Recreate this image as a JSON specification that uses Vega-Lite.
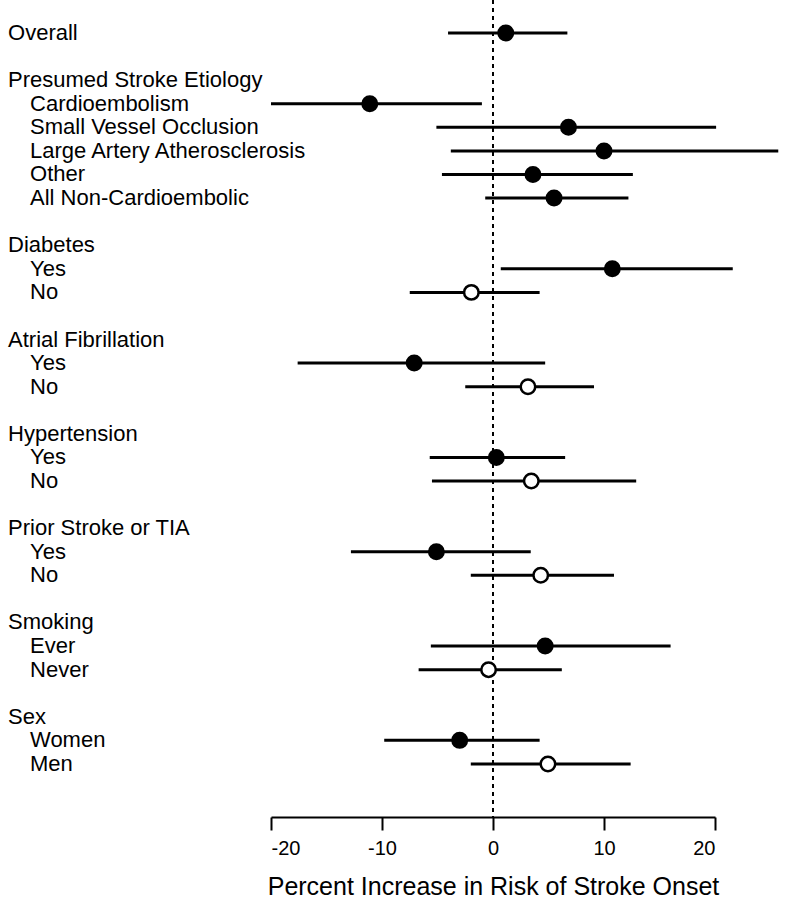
{
  "$schema": "https://vega.github.io/schema/vega-lite/v6.json",
  "autosize": {"type": "none"},
  "padding": {"left": 271, "right": 70, "top": 0, "bottom": 85},
  "width": 444,
  "height": 817,
  "background": "white",
  "config": {"view": {"stroke": null}, "font": "Liberation Sans"},
  "data": {"values": [
    {"row": 0, "label": "Overall", "level": "head", "est": 1.15, "lo": -4.05, "hi": 6.7, "filled": "yes"},
    {"row": 2, "label": "Presumed Stroke Etiology", "level": "head", "est": null, "lo": null, "hi": null, "filled": null},
    {"row": 3, "label": "Cardioembolism", "level": "item", "est": -11.1, "lo": -20.0, "hi": -1.0, "filled": "yes"},
    {"row": 4, "label": "Small Vessel Occlusion", "level": "item", "est": 6.8, "lo": -5.1, "hi": 20.1, "filled": "yes"},
    {"row": 5, "label": "Large Artery Atherosclerosis", "level": "item", "est": 10.0, "lo": -3.8, "hi": 25.7, "filled": "yes"},
    {"row": 6, "label": "Other", "level": "item", "est": 3.6, "lo": -4.6, "hi": 12.6, "filled": "yes"},
    {"row": 7, "label": "All Non-Cardioembolic", "level": "item", "est": 5.5, "lo": -0.7, "hi": 12.2, "filled": "yes"},
    {"row": 9, "label": "Diabetes", "level": "head", "est": null, "lo": null, "hi": null, "filled": null},
    {"row": 10, "label": "Yes", "level": "item", "est": 10.75, "lo": 0.7, "hi": 21.6, "filled": "yes"},
    {"row": 11, "label": "No", "level": "item", "est": -1.95, "lo": -7.5, "hi": 4.2, "filled": "no"},
    {"row": 13, "label": "Atrial Fibrillation", "level": "head", "est": null, "lo": null, "hi": null, "filled": null},
    {"row": 14, "label": "Yes", "level": "item", "est": -7.1, "lo": -17.6, "hi": 4.7, "filled": "yes"},
    {"row": 15, "label": "No", "level": "item", "est": 3.15, "lo": -2.5, "hi": 9.1, "filled": "no"},
    {"row": 17, "label": "Hypertension", "level": "head", "est": null, "lo": null, "hi": null, "filled": null},
    {"row": 18, "label": "Yes", "level": "item", "est": 0.3, "lo": -5.7, "hi": 6.5, "filled": "yes"},
    {"row": 19, "label": "No", "level": "item", "est": 3.45, "lo": -5.5, "hi": 12.9, "filled": "no"},
    {"row": 21, "label": "Prior Stroke or TIA", "level": "head", "est": null, "lo": null, "hi": null, "filled": null},
    {"row": 22, "label": "Yes", "level": "item", "est": -5.1, "lo": -12.8, "hi": 3.4, "filled": "yes"},
    {"row": 23, "label": "No", "level": "item", "est": 4.3, "lo": -2.0, "hi": 10.9, "filled": "no"},
    {"row": 25, "label": "Smoking", "level": "head", "est": null, "lo": null, "hi": null, "filled": null},
    {"row": 26, "label": "Ever", "level": "item", "est": 4.7, "lo": -5.6, "hi": 16.0, "filled": "yes"},
    {"row": 27, "label": "Never", "level": "item", "est": -0.4, "lo": -6.7, "hi": 6.2, "filled": "no"},
    {"row": 29, "label": "Sex", "level": "head", "est": null, "lo": null, "hi": null, "filled": null},
    {"row": 30, "label": "Women", "level": "item", "est": -3.0, "lo": -9.8, "hi": 4.2, "filled": "yes"},
    {"row": 31, "label": "Men", "level": "item", "est": 4.95, "lo": -2.0, "hi": 12.4, "filled": "no"}
  ]},
  "layer": [
    {
      "mark": {"type": "rule", "strokeDash": [4, 4], "strokeWidth": 2, "color": "black"},
      "encoding": {
        "x": {"datum": 0, "type": "quantitative",
          "scale": {"domain": [-20, 20], "nice": false, "zero": false},
          "axis": {
            "values": [-20, -10, 0, 10, 20],
            "labelExpr": "datum.value + ''",
            "grid": false,
            "domain": true, "domainColor": "black", "domainWidth": 2,
            "ticks": true, "tickColor": "black", "tickWidth": 2, "tickSize": 13,
            "labelFontSize": 20, "labelColor": "black", "labelPadding": 8, "labelFont": "Liberation Sans",
            "title": "Percent Increase in Risk of Stroke Onset",
            "titleFontSize": 25, "titleFontWeight": "normal", "titleColor": "black", "titlePadding": 16, "titleFont": "Liberation Sans"
          }
        }
      }
    },
    {
      "transform": [{"filter": "datum.est != null"}],
      "mark": {"type": "rule", "strokeWidth": 3, "color": "black"},
      "encoding": {
        "x": {"field": "lo", "type": "quantitative"},
        "x2": {"field": "hi"},
        "y": {"field": "row", "type": "quantitative",
          "scale": {"domain": [-1.4, 33.25], "reverse": true, "nice": false, "zero": false},
          "axis": null}
      }
    },
    {
      "transform": [{"filter": "datum.est != null"}],
      "mark": {"type": "point", "shape": "circle", "filled": true, "stroke": "black", "strokeWidth": 2.5, "size": 210, "opacity": 1},
      "encoding": {
        "x": {"field": "est", "type": "quantitative"},
        "y": {"field": "row", "type": "quantitative"},
        "fill": {"field": "filled", "type": "nominal", "scale": {"domain": ["yes", "no"], "range": ["black", "white"]}, "legend": null}
      }
    },
    {
      "transform": [{"filter": "datum.level == 'head'"}],
      "mark": {"type": "text", "align": "left", "baseline": "middle", "fontSize": 22, "font": "Liberation Sans", "color": "black"},
      "encoding": {
        "x": {"datum": -43.69, "type": "quantitative"},
        "y": {"field": "row", "type": "quantitative"},
        "text": {"field": "label"}
      }
    },
    {
      "transform": [{"filter": "datum.level == 'item'"}],
      "mark": {"type": "text", "align": "left", "baseline": "middle", "fontSize": 22, "font": "Liberation Sans", "color": "black"},
      "encoding": {
        "x": {"datum": -41.71, "type": "quantitative"},
        "y": {"field": "row", "type": "quantitative"},
        "text": {"field": "label"}
      }
    }
  ]
}
